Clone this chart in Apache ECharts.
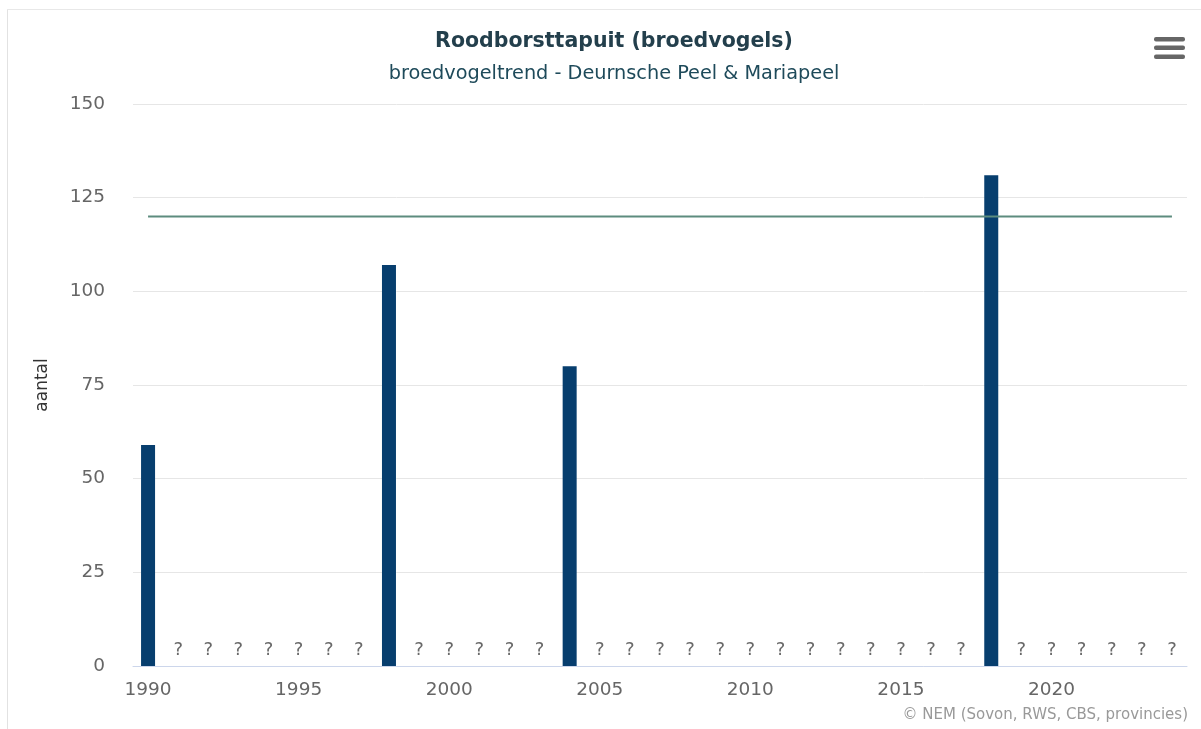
<!DOCTYPE html>
<html>
<head>
<meta charset="utf-8">
<title>Roodborsttapuit (broedvogels)</title>
<script src="https://cdn.jsdelivr.net/npm/echarts@6/dist/echarts.min.js"></script>
<style>
  html, body { margin: 0; padding: 0; background: #ffffff; }
  #chart { width: 1201px; height: 729px; }
</style>
</head>
<body>
<div id="chart"></div>
<script>
// Survey years on the x axis
const years = [
  1990, 1991, 1992, 1993, 1994, 1995, 1996, 1997, 1998, 1999,
  2000, 2001, 2002, 2003, 2004, 2005, 2006, 2007, 2008, 2009,
  2010, 2011, 2012, 2013, 2014, 2015, 2016, 2017, 2018, 2019,
  2020, 2021, 2022, 2023, 2024
];
// Breeding pairs counted per year (null = not counted)
const counts = [
  59, null, null, null, null, null, null, null, 107, null,
  null, null, null, null, 80, null, null, null, null, null,
  null, null, null, null, null, null, null, null, 131, null,
  null, null, null, null, null
];
// Reference level drawn as a horizontal line
const referenceLevel = 120;
// Y axis ticks
const yTicks = [0, 25, 50, 75, 100, 125, 150];

const labels = years.map(String);
const missingMarks = counts.map(v => (v === null ? 0 : null));
const referenceLine = years.map(() => referenceLevel);

const FONT = '"DejaVu Sans", Verdana, sans-serif';

const chart = echarts.init(document.getElementById('chart'), null, { renderer: 'canvas' });

chart.setOption({
  animation: false,
  backgroundColor: '#ffffff',
  title: {
    text: 'Roodborsttapuit (broedvogels)',
    subtext: 'broedvogeltrend - Deurnsche Peel & Mariapeel',
    left: 609,
    textAlign: 'center',
    top: 26,
    itemGap: 12,
    textStyle: { fontFamily: FONT, fontSize: 20.5, fontWeight: 'bold', color: '#233f4c' },
    subtextStyle: { fontFamily: FONT, fontSize: 19.3, color: '#1e4a5a' }
  },
  grid: { left: 133, right: 14, top: 104, bottom: 63, containLabel: false },
  xAxis: {
    type: 'category',
    data: labels,
    boundaryGap: true,
    axisLine: { lineStyle: { color: '#ccd6eb', width: 1 } },
    axisTick: {
      alignWithLabel: true,
      length: 10,
      lineStyle: { color: '#ccd6eb' },
      interval: (i) => i % 5 === 0
    },
    axisLabel: {
      interval: (i) => i % 5 === 0,
      margin: 15,
      fontFamily: FONT,
      fontSize: 18.5,
      color: '#666666'
    },
    splitLine: { show: false }
  },
  yAxis: {
    type: 'value',
    min: yTicks[0],
    max: yTicks[yTicks.length - 1],
    interval: 25,
    name: 'aantal',
    nameLocation: 'middle',
    nameGap: 82,
    nameRotate: 90,
    nameTextStyle: { fontFamily: FONT, fontSize: 17, color: '#333333' },
    axisLine: { show: false },
    axisTick: { show: false },
    axisLabel: { margin: 28, fontFamily: FONT, fontSize: 18.5, color: '#666666' },
    splitLine: { lineStyle: { color: '#e6e6e6', width: 1 } }
  },
  series: [
    {
      name: 'aantal',
      type: 'bar',
      data: counts,
      barWidth: 14,
      itemStyle: { color: '#073e6e' },
      z: 2
    },
    {
      name: 'niet geteld',
      type: 'scatter',
      data: missingMarks,
      symbolSize: 1,
      itemStyle: { color: 'rgba(0,0,0,0)' },
      label: {
        show: true,
        position: 'top',
        distance: 6,
        formatter: '?',
        fontFamily: FONT,
        fontSize: 18,
        color: '#444444'
      },
      z: 3
    },
    {
      name: 'referentie',
      type: 'line',
      data: referenceLine,
      symbol: 'none',
      lineStyle: { color: '#5d8c7e', width: 2 },
      z: 4
    }
  ],
  graphic: [
    // panel border (left and top edges)
    { type: 'rect', shape: { x: 7, y: 9, width: 1, height: 720 }, style: { fill: '#e2e2e2' }, silent: true },
    { type: 'rect', shape: { x: 7, y: 9, width: 1194, height: 1 }, style: { fill: '#e8e8e8' }, silent: true },
    // menu button
    { type: 'rect', shape: { x: 1154, y: 37, width: 31, height: 4.5, r: 2 }, style: { fill: '#666666' } },
    { type: 'rect', shape: { x: 1154, y: 45.5, width: 31, height: 4.5, r: 2 }, style: { fill: '#666666' } },
    { type: 'rect', shape: { x: 1154, y: 54.5, width: 31, height: 4.5, r: 2 }, style: { fill: '#666666' } },
    // credits
    {
      type: 'text',
      right: 13,
      top: 708,
      style: {
        text: '\u00A9 NEM (Sovon, RWS, CBS, provincies)',
        font: '15px ' + FONT,
        fill: '#999999'
      }
    }
  ]
});
</script>
</body>
</html>
